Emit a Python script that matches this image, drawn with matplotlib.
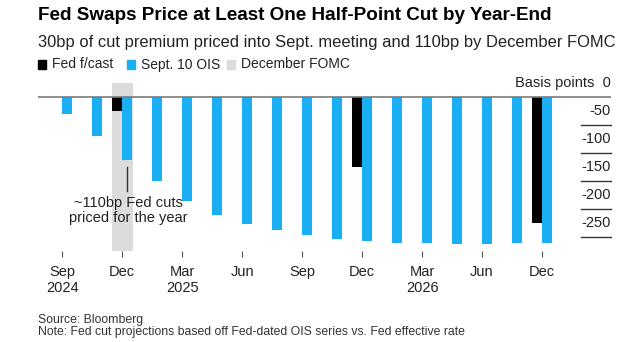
import matplotlib.pyplot as plt
from matplotlib import transforms

plt.rcParams['font.family'] = ['Liberation Sans', 'DejaVu Sans']

# FOMC meeting slots, Sep 2024 .. Dec 2026
ois = [-30, -70, -112, -150, -185, -210, -227, -238, -247,
       -253, -257, -260, -261, -262, -263, -260, -260]
fed_slots = [2, 10, 16]
fed_fcast = [-25, -125, -225]
tick_slots = [0, 2, 4, 6, 8, 10, 12, 14, 16]
tick_labels = ['Sep\n2024', 'Dec', 'Mar\n2025', 'Jun', 'Sep', 'Dec', 'Mar\n2026', 'Jun', 'Dec']
y_ticks = [0, -50, -100, -150, -200, -250]
dec_slot = 2

blue = '#1aaff2'
W, H = 640, 342
fig = plt.figure(figsize=(W / 100, H / 100), dpi=100)
ax = fig.add_axes([38 / W, 1 - 251 / H, (611 - 38) / W, (251 - 83) / H])

xs = list(range(len(ois)))
bw = 0.34
ax.axvspan(dec_slot - 0.345, dec_slot + 0.345, color='#dcdcdc', zorder=0, lw=0)
ax.bar([x + 0.17 for x in xs], ois, width=bw, color=blue, zorder=2)
ax.bar([x - 0.17 for x in fed_slots], fed_fcast, width=bw, color='black', zorder=2)

ax.set_xlim(-0.81, 18.3)
ax.set_ylim(-275, 25.6)
ax.axhline(0, color='#7a7a7a', lw=1.2, zorder=3)

for s in ax.spines.values():
    s.set_visible(False)
ax.set_yticks([])
ax.set_xticks(tick_slots)
ax.set_xticklabels(tick_labels, fontsize=10.5, color='#222222', linespacing=1.15)
ax.tick_params(axis='x', length=4, width=0.8, color='#555555', pad=6)

# y labels sitting above short grid lines on the right
ytr = ax.get_yaxis_transform()
lab_tr = transforms.offset_copy(ytr, fig=fig, x=0, y=5, units='points')
for v in y_ticks:
    if v != 0:
        ax.plot([0.947, 1.0], [v, v], transform=ytr, color='#333333', lw=1.0, clip_on=False)
        ax.text(1.0, v, str(v), transform=lab_tr, ha='right', va='bottom', fontsize=10.5, color='#222222')
ax.text(1.0, 0, 'Basis points  0', transform=lab_tr, ha='right', va='bottom', fontsize=10.5, color='#222222')

# annotation
ax.plot([dec_slot + 0.17, dec_slot + 0.17], [-125, -167], color='#333333', lw=1.0, zorder=3)
ax.text(dec_slot + 0.2, -177, '~110bp Fed cuts\npriced for the year', ha='center', va='top',
        fontsize=10.5, color='#222222', linespacing=1.05, zorder=4)

# title, subtitle, legend, footnotes
fig.text(38 / W, 1 - 16 / H, 'Fed Swaps Price at Least One Half-Point Cut by Year-End',
         fontsize=13.6, fontweight='bold', va='center', ha='left')
fig.text(38 / W, 1 - 42 / H, '30bp of cut premium priced into Sept. meeting and 110bp by December FOMC',
         fontsize=11.85, va='center', ha='left', color='#222222')
leg = [('Fed f/cast', 'black', 38), ('Sept. 10 OIS', blue, 127), ('December FOMC', '#dcdcdc', 227)]
for name, c, x0 in leg:
    fig.patches.append(plt.Rectangle((x0 / W, 1 - 69 / H), 8 / W, 9 / H, color=c,
                                     transform=fig.transFigure, figure=fig))
    fig.text((x0 + 14) / W, 1 - 64.5 / H, name, fontsize=10, va='center', ha='left', color='#222222')
fig.text(38 / W, 1 - 320.5 / H, 'Source: Bloomberg', fontsize=8.8, va='center', color='#333333')
fig.text(38 / W, 1 - 332.5 / H, 'Note: Fed cut projections based off Fed-dated OIS series vs. Fed effective rate',
         fontsize=8.8, va='center', color='#333333')

fig.savefig('out.png', dpi=100)
